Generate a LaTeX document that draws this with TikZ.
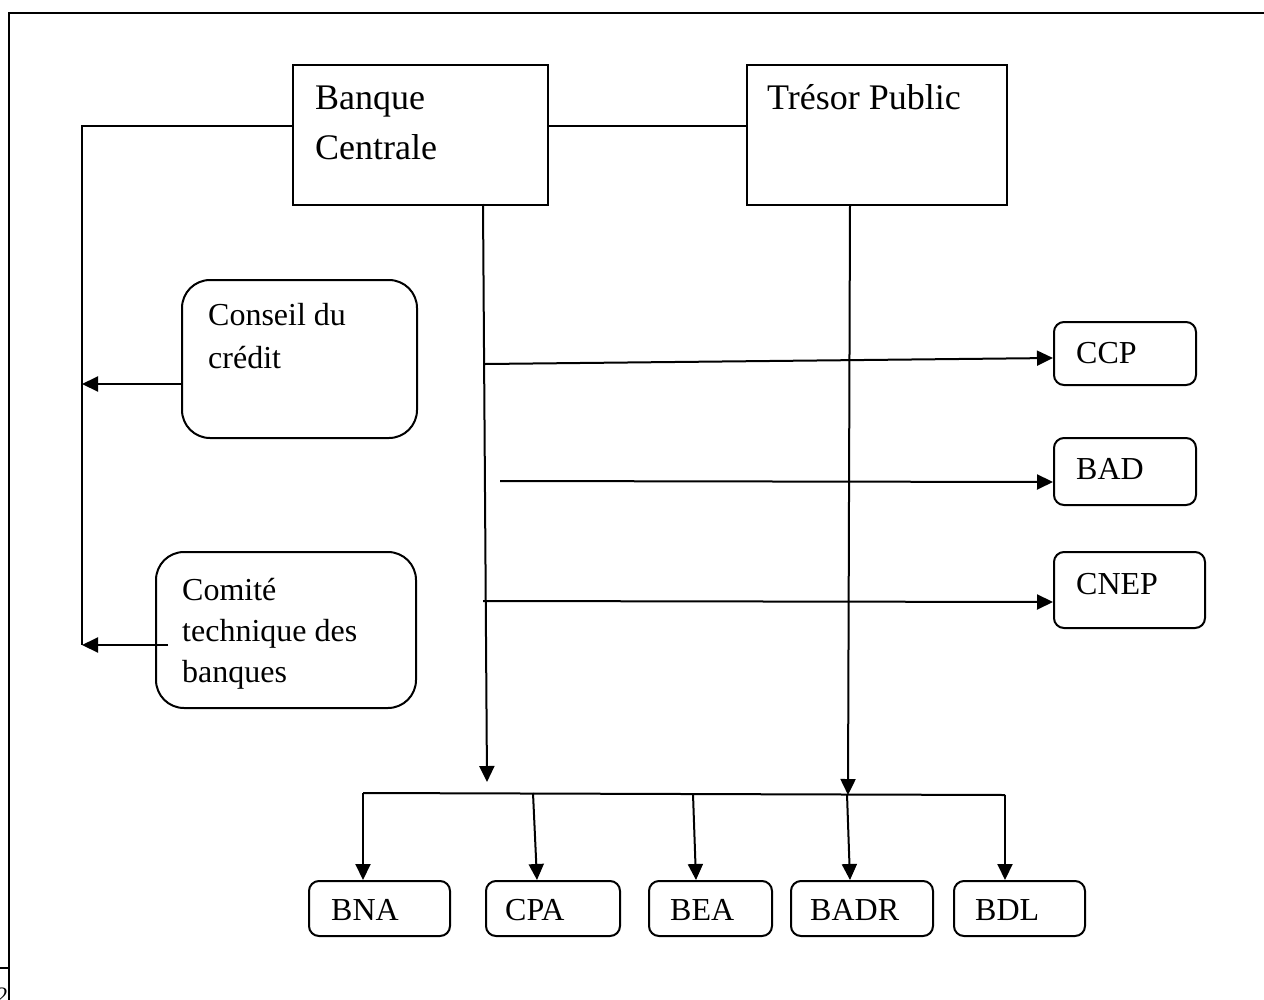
\documentclass[tikz,border=0pt]{standalone}
\usepackage{fontspec}
\setmainfont{Liberation Serif}
\usetikzlibrary{arrows.meta,calc}
\begin{document}
\begin{tikzpicture}[x=1pt,y=-1pt,
  box/.style={draw, line width=2pt, inner sep=0pt, anchor=north west},
  rbox/.style={box, rounded corners=28pt},
  sbox/.style={box, rounded corners=10pt},
  con/.style={line width=2pt},
  arr/.style={con, -{Triangle[length=16pt,width=15pt]}},
  big/.style={font=\fontsize{36}{48}\selectfont, anchor=base west, inner sep=0pt},
  small/.style={font=\fontsize{32}{41}\selectfont, anchor=base west, inner sep=0pt}]
\useasboundingbox (0,0) rectangle (1264,999);
% page number partly hidden behind the frame
\node[font=\fontsize{22}{26}\selectfont, anchor=base west, inner sep=0pt] (pg) at (-3,1002) {28};
\draw[line width=2pt, fill=white] (9,13) rectangle (1290,1020);
\draw[line width=2pt] (0,968) -- (9,968);

% boxes
\node[box, minimum width=255pt, minimum height=140pt] (bc) at (292,64) {};
\node[box, minimum width=260pt, minimum height=140pt] (tp) at (746,64) {};
\node[rbox, minimum width=235pt, minimum height=158pt] (cc) at (181,279) {};
\node[rbox, minimum width=260pt, minimum height=156pt] (ct) at (155,551) {};
\node[sbox, minimum width=142pt, minimum height=63pt] (ccp) at (1053,321) {};
\node[sbox, minimum width=142pt, minimum height=67pt] (bad) at (1053,437) {};
\node[sbox, minimum width=151pt, minimum height=76pt] (cnep) at (1053,551) {};
\node[sbox, minimum width=141pt, minimum height=55pt] (bna) at (308,880) {};
\node[sbox, minimum width=134pt, minimum height=55pt] (cpa) at (485,880) {};
\node[sbox, minimum width=123pt, minimum height=55pt] (bea) at (648,880) {};
\node[sbox, minimum width=142pt, minimum height=55pt] (badr) at (790,880) {};
\node[sbox, minimum width=131pt, minimum height=55pt] (bdl) at (953,880) {};

% texts
\node[big] (t1) at (315,109) {Banque};
\node[big] (t2) at (315,159) {Centrale};
\node[big] (t3) at (767,109) {Trésor Public};
\node[small] (t4) at (208,325) {Conseil du};
\node[small] (t5) at (208,368) {crédit};
\node[small] (t6) at (182,600) {Comité};
\node[small] (t7) at (182,641) {technique des};
\node[small] (t8) at (182,682) {banques};
\node[small] (t9) at (1076,363) {CCP};
\node[small] (t10) at (1076,479) {BAD};
\node[small] (t11) at (1076,594) {CNEP};
\node[small] (t12) at (331,920) {BNA};
\node[small] (t13) at (505,920) {CPA};
\node[small] (t14) at (670,920) {BEA};
\node[small] (t15) at (810,920) {BADR};
\node[small] (t16) at (975,920) {BDL};

% connector points
\coordinate (ltop) at (82,126);
\coordinate (lbot) at (82,645);
\coordinate (ctin) at (168,645);
\coordinate (bcs) at (483,204);
\coordinate (bce) at (487,782);
\coordinate (tps) at (850,204);
\coordinate (tpe) at (848,795);
\coordinate (busL) at (363,793);
\coordinate (busR) at (1005,795);
\coordinate (b2) at (533,793);
\coordinate (b3) at (693,794);
\coordinate (b4) at (847,794);
\coordinate (s1) at (485,364);
\coordinate (s2) at (500,481);
\coordinate (s3) at (483,601);

% connectors
\draw[con] (bc.west |- ltop) -- (ltop) -- (lbot);
\draw[con] (bc.east |- ltop) -- (tp.west |- ltop);
\draw[arr] ($(cc.north west)+(0,105)$) -- (ltop |- 0,384);
\draw[arr] (ctin) -- (lbot);
\draw[arr] (bcs) -- (bce);
\draw[arr] (tps) -- (tpe);
\draw[con] (busL) -- (busR);
\draw[arr] (busL) -- ($(bna.north west)+(55,0)$);
\draw[arr] (b2) -- ($(cpa.north west)+(52,0)$);
\draw[arr] (b3) -- ($(bea.north west)+(48,0)$);
\draw[arr] (b4) -- ($(badr.north west)+(60,0)$);
\draw[arr] (busR) -- ($(bdl.north west)+(52,0)$);
\draw[arr] (s1) -- ($(ccp.north west)+(0,37)$);
\draw[arr] (s2) -- ($(bad.north west)+(0,45)$);
\draw[arr] (s3) -- ($(cnep.north west)+(0,51)$);
\end{tikzpicture}
\end{document}
